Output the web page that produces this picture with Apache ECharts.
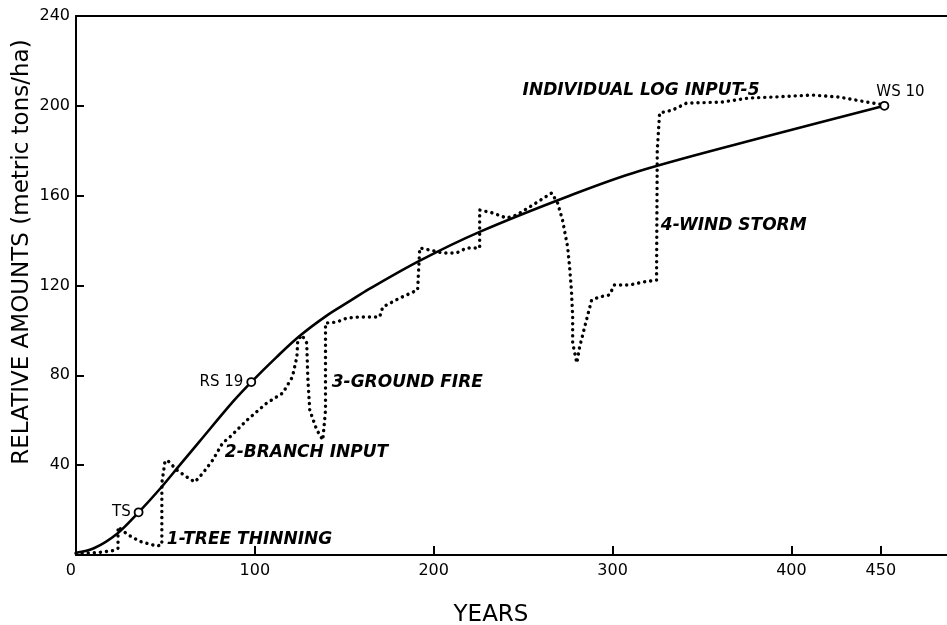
<!DOCTYPE html>
<html>
<head>
<meta charset="utf-8">
<script src="https://cdn.jsdelivr.net/npm/echarts@6/dist/echarts.min.js"></script>
<style>html,body{margin:0;padding:0;background:#fff}#chart{width:947px;height:625px}</style>
</head>
<body>
<div id="chart"></div>
<script>
// ---- data ----
const xLabelValues = [0, 100, 200, 300, 400, 450];
const xTickValues = [100, 200, 300, 400, 450];
const yTicks = [0, 40, 80, 120, 160, 200, 240];

// solid curve (total / expected accumulation)
const solidYears   = [0, 10, 23, 35, 47, 58, 69, 88, 98, 112, 125, 140, 153, 164, 192, 226, 276, 315, 389, 452];
const solidAmounts = [1, 3, 9.5, 19, 29.5, 40, 50.5, 68.5, 77, 88, 97.5, 106.5, 113, 118.5, 131, 144, 160, 171, 187, 200];

// dotted curve (with disturbance events)
const dottedYears = [0, 12, 21, 23.5, 23.5, 29, 36, 45, 48, 48, 49.7, 51, 56.4, 62, 66.5, 71, 76.5, 82, 86, 95.5,
  106.7, 115.6, 121, 123.5, 124, 126.3, 129, 129.6, 130.7, 134.6, 138, 139.5, 139.5, 145.8, 151.4, 158.7, 169.8,
  171.5, 181, 191, 192.2, 197.8, 205, 212.8, 218.4, 225.7, 225.7, 233, 240.8, 246.4, 255.3, 266, 269.3, 272,
  274.9, 276, 277, 277.7, 277.7, 280, 281.6, 284.4, 288.3, 292.7, 298.3, 301, 309.5, 316.8, 324.6, 325, 326.3,
  333.5, 341.3, 361.5, 376.5, 389.4, 411.7, 426.8, 442, 452];
const dottedAmounts = [0.8, 1, 2, 3, 12.5, 9, 6, 4, 4.5, 32, 41.4, 42.3, 37.8, 34.7, 32.5, 36.5, 42.3, 49.9, 52.5, 60,
  67.7, 72.1, 79.3, 88.2, 95.7, 98, 94.4, 79.3, 64.5, 55.7, 51.2, 64.5, 103.3, 103.7, 105.5, 106, 106,
  110.4, 114.4, 118, 136.7, 135.8, 134.5, 134.5, 136.7, 136.7, 153.6, 152.3, 150, 151.4, 155.8, 161.2, 156.7, 149.2,
  137.1, 128.2, 118, 106, 94.4, 85.5, 92.6, 101.5, 113.5, 114.9, 115.8, 120.2, 120.2, 121.5, 122.4, 180.3, 196.8,
  198.1, 201.2, 201.7, 203.5, 203.9, 204.8, 203.9, 201.7, 200.4];

// labelled stand points on the solid curve
const markerNames   = ['TS', 'RS 19', 'WS 10'];
const markerYears   = [35, 98, 452];
const markerAmounts = [19, 77, 200];

// event annotations (left edge anchor, data units)
const noteTexts   = ['1-TREE THINNING', '2-BRANCH INPUT', '3-GROUND FIRE', '4-WIND STORM', 'INDIVIDUAL LOG INPUT-5'];
const noteYears   = [50.8, 83.2, 143, 327, 249.7];
const noteAmounts = [6.7, 45.4, 76.6, 146.9, 207];

// ---- chart ----
const pair = (xs, ys) => xs.map((x, i) => [x, ys[i]]);
const FONT = 'DejaVu Sans';
const INK = '#000';

const chart = echarts.init(document.getElementById('chart'), null, { renderer: 'canvas' });
chart.setOption({
  backgroundColor: '#fff',
  animation: false,
  grid: { left: 76, right: 0, top: 16, bottom: 70, containLabel: false },
  xAxis: [{
    type: 'value', min: 0, max: 487,
    axisLine: { show: true, lineStyle: { color: INK, width: 2 } },
    axisTick: { show: true, inside: true, length: 9, customValues: xTickValues, lineStyle: { color: INK, width: 2 } },
    axisLabel: { customValues: xLabelValues, color: INK, fontFamily: FONT, fontSize: 16, margin: 8, alignMinLabel: 'right' },
    splitLine: { show: false }
  }, {
    type: 'value', min: 0, max: 487, position: 'top',
    axisLine: { show: true, onZero: false, lineStyle: { color: INK, width: 2 } },
    axisTick: { show: false }, axisLabel: { show: false }, splitLine: { show: false }
  }],
  yAxis: {
    type: 'value', min: 0, max: 240, interval: 40,
    axisLine: { show: true, lineStyle: { color: INK, width: 2 } },
    axisTick: { show: true, inside: true, length: 8, lineStyle: { color: INK, width: 2 } },
    axisLabel: {
      color: INK, fontFamily: FONT, fontSize: 16, margin: 6,
      formatter: v => (yTicks.includes(v) && v !== 0) ? String(v) : ''
    },
    splitLine: { show: false }
  },
  graphic: [
    { type: 'text', x: 22, y: 252, rotation: Math.PI / 2,
      style: { text: 'RELATIVE AMOUNTS (metric tons/ha)', fill: INK, font: '23px "DejaVu Sans"', textAlign: 'center', textVerticalAlign: 'middle' } },
    { type: 'text', x: 491, y: 615,
      style: { text: 'YEARS', fill: INK, font: '23px "DejaVu Sans"', textAlign: 'center', textVerticalAlign: 'middle' } }
  ],
  series: [
    {
      name: 'total', type: 'line', data: pair(solidYears, solidAmounts), smooth: 0.35,
      symbol: 'none', lineStyle: { color: INK, width: 2.6 }, z: 3
    },
    {
      name: 'dead wood', type: 'line', data: pair(dottedYears, dottedAmounts), smooth: false,
      symbol: 'none', lineStyle: { color: INK, width: 3.4, type: [0.1, 6], cap: 'round' }, z: 2
    },
    {
      name: 'stands', type: 'scatter', data: pair(markerYears, markerAmounts).map((d, i) => ({
        value: d, name: markerNames[i],
        label: i === 2 ? { position: 'top', distance: 1, offset: [16, 0] } : { position: 'left', distance: 3 }
      })),
      symbol: 'circle', symbolSize: 8,
      itemStyle: { color: '#fff', borderColor: INK, borderWidth: 1.8, opacity: 1 },
      label: { show: true, formatter: p => p.name, color: INK, fontFamily: FONT, fontSize: 15 }, z: 4
    },
    {
      name: 'notes', type: 'scatter', data: pair(noteYears, noteAmounts).map((d, i) => ({ value: d, name: noteTexts[i] })),
      symbolSize: 0, silent: true, itemStyle: { opacity: 1 },
      label: { show: true, position: 'right', distance: 0, formatter: p => p.name, color: INK,
        fontFamily: FONT, fontSize: 17, fontStyle: 'italic', fontWeight: 'bold' }, z: 5
    }
  ]
});
</script>
</body>
</html>
